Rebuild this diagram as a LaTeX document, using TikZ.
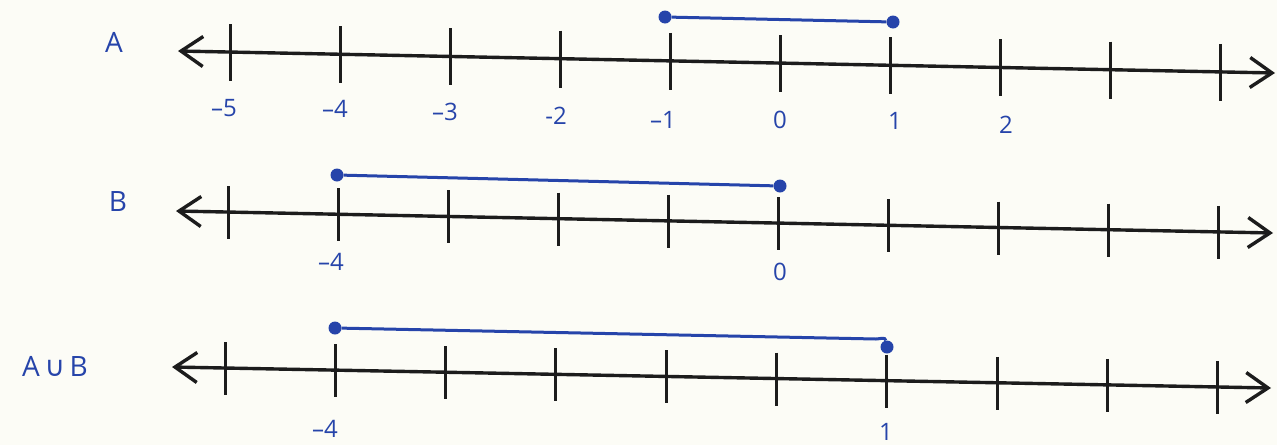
\documentclass[tikz,border=0pt]{standalone}
\usepackage{fontspec}
\setmainfont{Open Sans}
\newfontfamily\djfont{DejaVu Sans}
\usetikzlibrary{arrows.meta,calc}
\definecolor{paper}{RGB}{252,252,246}
\definecolor{ink}{RGB}{28,28,28}
\definecolor{pen}{RGB}{38,68,170}
\begin{document}
\begin{tikzpicture}[x=1pt,y=-1pt,
  axisline/.style={draw=ink,line width=3.4pt,
    {Straight Barb[length=22pt,width=30pt]}-{Straight Barb[length=22pt,width=30pt]}},
  tickmark/.style={draw=ink,line width=3pt},
  seg/.style={draw=pen,line width=3pt},
  dotmark/.style={circle,fill=pen,inner sep=0pt,minimum size=13pt},
  numlab/.style={text=pen,font=\fontsize{24}{24}\selectfont,inner sep=0pt},
  setlab/.style={text=pen,font=\fontsize{28}{28}\selectfont,inner sep=0pt}]
\useasboundingbox (0,0) rectangle (1277,445);
\fill[paper] (0,0) rectangle (1277,445);

% ---------- line A ----------
\coordinate (aL) at (178,51);
\coordinate (aR) at (1275,73);
\draw[axisline] (aL) -- (aR);
\foreach \k in {0,...,9}{
  \pgfmathsetmacro\tx{230+110.1*\k}
  \pgfmathsetmacro\ty{51+(\tx-178)*0.02005}
  \draw[tickmark] (\tx,\ty-28) -- (\tx,\ty+29);
}
\node[setlab] (labA) at (114,42) {A};
\node[numlab] (a-5) at (224,108) {–5};
\node[numlab] (a-4) at (335,109) {–4};
\node[numlab] (a-3) at (445,112) {–3};
\node[numlab] (a-2) at (556,116) {-2};
\node[numlab] (a-1) at (663,120) {–1};
\node[numlab] (a0) at (780,120) {0};
\node[numlab] (a1) at (895,121) {1};
\node[numlab] (a2) at (1006,125) {2};
\node[dotmark] (aS) at (665,17) {};
\node[dotmark] (aE) at (893,22) {};
\draw[seg] (aS) -- (aE);

% ---------- line B ----------
\coordinate (bL) at (176,211);
\coordinate (bR) at (1273,233);
\draw[axisline] (bL) -- (bR);
\foreach \k in {0,...,9}{
  \pgfmathsetmacro\tx{228+110.1*\k}
  \pgfmathsetmacro\ty{211+(\tx-176)*0.02005}
  \draw[tickmark] (\tx,\ty-26) -- (\tx,\ty+27);
}
\node[setlab] (labB) at (118,202) {B};
\node[numlab] (b-4) at (331,262) {–4};
\node[numlab] (b0) at (780,272) {0};
\node[dotmark] (bS) at (337,175) {};
\node[dotmark] (bE) at (780,186) {};
\draw[seg] (bS) -- (bE);

% ---------- line A union B ----------
\coordinate (cL) at (172,367);
\coordinate (cR) at (1271,388);
\draw[axisline] (cL) -- (cR);
\foreach \k in {0,...,9}{
  \pgfmathsetmacro\tx{225+110.3*\k}
  \pgfmathsetmacro\ty{367+(\tx-172)*0.0191}
  \draw[tickmark] (\tx,\ty-26) -- (\tx,\ty+27);
}
\node[setlab] (labC) at (55,366) {A\,{\djfont ∪}\,B};
\node[numlab] (c-4) at (325,429) {–4};
\node[numlab] (c1) at (886,432) {1};
\node[dotmark] (cS) at (335,328) {};
\node[dotmark] (cE) at (887,347) {};
\draw[seg] (cS) -- (876,339) to[out=0,in=100] (cE);
\end{tikzpicture}
\end{document}
